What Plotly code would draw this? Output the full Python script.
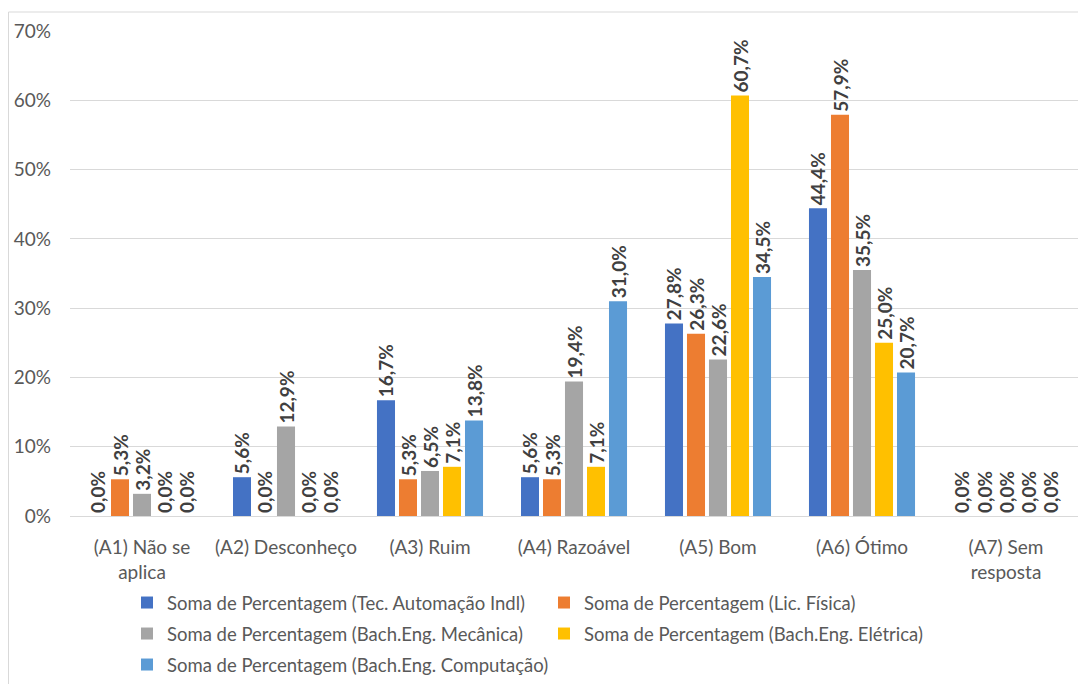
import plotly.graph_objects as go

categories = ["(A1) Não se<br>aplica", "(A2) Desconheço", "(A3) Ruim", "(A4) Razoável",
              "(A5) Bom", "(A6) Ótimo", "(A7) Sem<br>resposta"]

series_names = [
    "Soma de Percentagem (Tec. Automação Indl)",
    "Soma de Percentagem (Lic. Física)",
    "Soma de Percentagem (Bach.Eng. Mecânica)",
    "Soma de Percentagem (Bach.Eng. Elétrica)",
    "Soma de Percentagem (Bach.Eng. Computação)",
]

tec_automacao = [0.0, 5.6, 16.7, 5.6, 27.8, 44.4, 0.0]
lic_fisica = [5.3, 0.0, 5.3, 5.3, 26.3, 57.9, 0.0]
eng_mecanica = [3.2, 12.9, 6.5, 19.4, 22.6, 35.5, 0.0]
eng_eletrica = [0.0, 0.0, 7.1, 7.1, 60.7, 25.0, 0.0]
eng_computacao = [0.0, 0.0, 13.8, 31.0, 34.5, 20.7, 0.0]

series_values = [tec_automacao, lic_fisica, eng_mecanica, eng_eletrica, eng_computacao]
colors = ["#4472C4", "#ED7D31", "#A5A5A5", "#FFC000", "#5B9BD5"]
legend_ids = ["legend", "legend", "legend2", "legend2", "legend3"]

FONT = "Lato, Carlito, Calibri, Roboto, sans-serif"
LEG_FS = 18.5

fig = go.Figure()
for name, vals, col, lg in zip(series_names, series_values, colors, legend_ids):
    fig.add_trace(go.Bar(
        name=name,
        x=categories,
        y=[v / 100 for v in vals],
        marker=dict(color=col, line=dict(width=0)),
        text=[f"{v:.1f}%".replace(".", ",") for v in vals],
        textposition="outside",
        textangle=-90,
        constraintext="none",
        cliponaxis=False,
        textfont=dict(family=FONT, size=19, color="#404040", weight="bold"),
        hoverinfo="skip",
        legend=lg,
    ))

# page body has an 8px margin; figure coordinates are offset accordingly
ML, MR, MT, MB = 62, 16, 23, 176
W, H = 1086, 684
pw = W - ML - MR
ph = H - MT - MB


def legend_cfg(fy, ew):
    return dict(
        orientation="h",
        x=(119 - ML) / pw, xanchor="left",
        y=1 - (fy - MT) / ph, yanchor="middle",
        entrywidth=ew, entrywidthmode="pixels",
        font=dict(family=FONT, size=LEG_FS, color="#595959"),
        traceorder="normal",
        itemclick=False, itemdoubleclick=False,
        bgcolor="rgba(0,0,0,0)",
    )


fig.update_layout(
    width=W, height=H,
    margin=dict(l=ML, r=MR, t=MT, b=MB, autoexpand=False),
    paper_bgcolor="white", plot_bgcolor="white",
    barmode="group",
    bargap=0.236,
    bargroupgap=0.18,
    font=dict(family=FONT, size=19, color="#595959"),
    showlegend=True,
    legend=legend_cfg(595, 372),
    legend2=legend_cfg(626, 372),
    legend3=legend_cfg(657, 0),
    xaxis=dict(
        showgrid=False, showline=False, ticks="",
        tickfont=dict(family=FONT, size=19, color="#595959"),
        ticklabelstandoff=18,
    ),
    yaxis=dict(
        range=[0, 0.7], dtick=0.1, tickformat=".0%",
        showgrid=True, gridcolor="#D9D9D9", gridwidth=1,
        zeroline=True, zerolinecolor="#D9D9D9", zerolinewidth=1,
        showline=False, ticks="",
        tickfont=dict(family=FONT, size=19, color="#595959"),
        ticklabelstandoff=18,
    ),
    shapes=[dict(
        type="rect", xref="paper", yref="paper",
        x0=(0.5 - ML) / pw, x1=(W + 20 - ML) / pw,
        y0=-(H + 20 - MT - ph) / ph, y1=1 + (MT - 4) / ph,
        line=dict(color="#D9D9D9", width=1), fillcolor="rgba(0,0,0,0)",
        layer="below",
    )],
)

fig.write_html("out.html")
